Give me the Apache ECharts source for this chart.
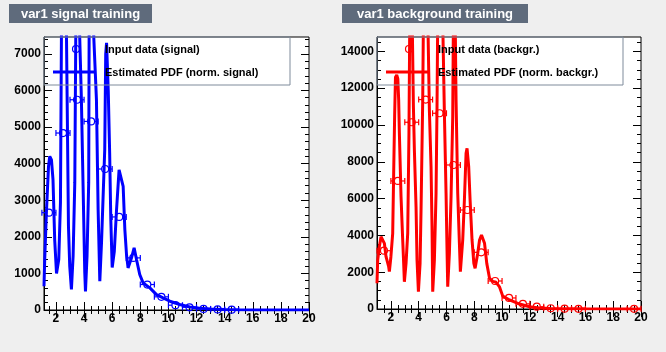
<!DOCTYPE html>
<html>
<head>
<meta charset="utf-8">
<script src="https://cdn.jsdelivr.net/npm/echarts@6.0.0/dist/echarts.min.js"></script>
<style>
html, body { margin: 0; padding: 0; background: #efefef; }
#chart { width: 666px; height: 352px; }
</style>
</head>
<body>
<div id="chart"></div>
<script>
// 输入数据直方图 (bin centres / contents)
var sigBinX = [1.5, 2.5, 3.5, 4.5, 5.5, 6.5, 7.5, 8.5, 9.5, 10.5, 11.5, 12.5, 13.5, 14.5];
var sigCounts = [2660, 4836, 5745, 5153, 3853, 2543, 1424, 696, 360, 131, 74, 30, 15, 10];

var bkgBinX = [1.5, 2.5, 3.5, 4.5, 5.5, 6.5, 7.5, 8.5, 9.5, 10.5, 11.5, 12.5, 13.5, 14.5, 15.5, 19.5];
var bkgCounts = [3168, 6957, 10147, 11380, 10636, 7826, 5380, 3080, 1522, 600, 280, 125, 40, 20, 10, 10];

// 估计的 PDF 曲线
var sigPdfX = [1.15, 1.20, 1.32, 1.47, 1.56, 1.68, 1.79, 1.91, 2.04, 2.20, 2.32, 2.39, 2.57, 2.75, 2.89, 2.98,
  3.10, 3.22, 3.34, 3.41, 3.55, 3.69, 3.81, 3.93, 4.05, 4.10, 4.21, 4.33, 4.36, 4.52, 4.69, 4.88, 5.00, 5.12,
  5.24, 5.47, 5.54, 5.60, 5.66, 5.72, 5.82, 5.90, 6.00, 6.15, 6.31, 6.49, 6.59, 6.78, 6.90, 7.02, 7.13, 7.37,
  7.56, 7.73, 7.96, 8.20, 8.68, 9.15, 9.62, 10.10, 10.81, 11.52, 12.22, 13.0, 14.0, 15.0, 16.0, 17.5, 20.0];
var sigPdfY = [650, 1380, 2660, 3925, 4200, 4100, 3560, 1925, 1000, 1380, 2930, 7500, 10500, 7460, 2290, 1200,
  560, 1470, 3480, 7500, 11500, 7460, 5750, 3380, 1020, 510, 1470, 3480, 7500, 10500, 7460, 5750, 2740, 790,
  1830, 4380, 7000, 7300, 7250, 6000, 4300, 2500, 1160, 1600, 2740, 3830, 3880, 3380, 2200, 1510, 1150, 1420,
  1700, 1380, 970, 740, 605, 420, 330, 240, 150, 80, 50, 25, 12, 6, 3, 0, 0];

var bkgPdfX = [1.0, 1.05, 1.17, 1.29, 1.43, 1.53, 1.65, 1.84, 1.89, 2.0, 2.13, 2.20, 2.27, 2.33, 2.42, 2.50,
  2.56, 2.61, 2.73, 2.85, 2.92, 2.97, 3.09, 3.21, 3.30, 3.35, 3.45, 3.55, 3.62, 3.69, 3.81, 3.88, 3.98, 4.10,
  4.17, 4.29, 4.33, 4.50, 4.68, 4.77, 4.89, 4.96, 5.01, 5.13, 5.25, 5.32, 5.36, 5.55, 5.75, 5.85, 5.97, 6.04,
  6.09, 6.21, 6.33, 6.45, 6.49, 6.57, 6.64, 6.69, 6.81, 6.93, 7.00, 7.17, 7.29, 7.41, 7.48, 7.60, 7.70, 7.84,
  7.97, 8.06, 8.25, 8.38, 8.52, 8.74, 8.90, 9.10, 9.33, 9.57, 9.82, 10.05, 10.54, 11.26, 11.98, 12.7, 13.5,
  14.5, 16.0, 18.0, 20.0];
var bkgPdfY = [1400, 2660, 3390, 3930, 4020, 3570, 2840, 2300, 2030, 2840, 4110, 7370, 10500, 12600, 12720, 12500,
  11360, 9560, 6100, 3750, 2480, 1480, 2480, 4110, 9550, 14800, 18000, 14800, 11000, 8640, 5560, 2660, 940, 2480,
  5380, 11360, 14800, 19000, 14800, 10800, 7730, 4470, 940, 2660, 6290, 11000, 14800, 18500, 14800, 10640, 6290, 3200,
  1210, 3030, 6100, 10450, 14800, 16000, 14800, 11360, 6290, 3570, 2030, 3750, 5920, 8460, 8730, 7730, 5920, 3750,
  2480, 2210, 3030, 3750, 4020, 3570, 2480, 1670, 1500, 1450, 1200, 700, 490, 270, 125, 60, 30,
  15, 8, 4, 2];

// 刻度
var xMajorTicks = [2, 4, 6, 8, 10, 12, 14, 16, 18, 20];
var sigYTicks = [0, 1000, 2000, 3000, 4000, 5000, 6000, 7000];
var bkgYTicks = [0, 2000, 4000, 6000, 8000, 10000, 12000, 14000];

var xMinorTicks = [];
for (var t = 1.5; t < 20; t += 0.5) xMinorTicks.push(t);
var sigYMinor = [];
for (var s = 200; s < 7460; s += 200) sigYMinor.push(s);
var bkgYMinor = [];
for (var b = 500; b < 14780; b += 500) bkgYMinor.push(b);

var FONT = '"Liberation Sans", Arial, Helvetica, sans-serif';

function zip(xs, ys) {
    var out = [];
    for (var i = 0; i < xs.length; i++) {
        if (ys[i] != null) out.push([xs[i], ys[i]]);
    }
    return out;
}

// 一个坐标轴: 主刻度 / 次刻度, 底/顶 (左/右)
function makeAxis(grid, pos, min, max, ticks, len, labels) {
    var ax = {
        type: 'value',
        gridIndex: grid,
        position: pos,
        min: min,
        max: max,
        axisLine: { show: labels, lineStyle: { color: '#000', width: 1 } },
        axisTick: { show: true, inside: true, length: len, customValues: ticks, lineStyle: { color: '#000', width: 1 } },
        axisLabel: { show: false },
        splitLine: { show: false }
    };
    if (labels) {
        ax.axisLabel = {
            show: true,
            customValues: ticks,
            formatter: function (v) { return String(v); },
            color: '#000',
            fontWeight: 'bold',
            fontSize: 12,
            fontFamily: FONT,
            margin: 3
        };
    }
    return ax;
}

function markerRender(params, api) {
    var c = api.coord([api.value(0), api.value(1)]);
    var halfW = api.size([0.5, 0])[0];
    var r = 3.5;
    var color = api.visual('color');
    var st = { stroke: color, lineWidth: 1.2, fill: null };
    return {
        type: 'group',
        children: [
            { type: 'line', shape: { x1: c[0] - halfW, y1: c[1], x2: c[0] - r, y2: c[1] }, style: st },
            { type: 'line', shape: { x1: c[0] + r, y1: c[1], x2: c[0] + halfW, y2: c[1] }, style: st },
            { type: 'line', shape: { x1: c[0] - halfW, y1: c[1] - 3, x2: c[0] - halfW, y2: c[1] + 3 }, style: st },
            { type: 'line', shape: { x1: c[0] + halfW, y1: c[1] - 3, x2: c[0] + halfW, y2: c[1] + 3 }, style: st },
            { type: 'circle', shape: { cx: c[0], cy: c[1], r: r }, style: { stroke: color, lineWidth: 1.2, fill: 'rgba(0,0,0,0)' } }
        ]
    };
}

var myChart = echarts.init(document.getElementById('chart'), null, { renderer: 'canvas' });

var xAxes = [
    // 左图 (signal) 0..3
    makeAxis(0, 'bottom', 1.15, 20, xMajorTicks, 8, true),
    makeAxis(0, 'bottom', 1.15, 20, xMinorTicks, 4, false),
    makeAxis(0, 'top', 1.15, 20, xMajorTicks, 8, false),
    makeAxis(0, 'top', 1.15, 20, xMinorTicks, 4, false),
    // 右图 (background) 4..7
    makeAxis(1, 'bottom', 1.0, 20, xMajorTicks, 8, true),
    makeAxis(1, 'bottom', 1.0, 20, xMinorTicks, 4, false),
    makeAxis(1, 'top', 1.0, 20, xMajorTicks, 8, false),
    makeAxis(1, 'top', 1.0, 20, xMinorTicks, 4, false)
];
var yAxes = [
    makeAxis(0, 'left', 0, 7460, sigYTicks, 8, true),
    makeAxis(0, 'left', 0, 7460, sigYMinor, 4, false),
    makeAxis(0, 'right', 0, 7460, sigYTicks, 8, false),
    makeAxis(0, 'right', 0, 7460, sigYMinor, 4, false),
    makeAxis(1, 'left', 0, 14780, bkgYTicks, 8, true),
    makeAxis(1, 'left', 0, 14780, bkgYMinor, 4, false),
    makeAxis(1, 'right', 0, 14780, bkgYTicks, 8, false),
    makeAxis(1, 'right', 0, 14780, bkgYMinor, 4, false)
];

function legendGraphics(x0, x1, circleX, lineX1, lineX2, textX, color, label1, label2) {
    return [
        { type: 'rect', shape: { x: x0, y: 37, width: x1 - x0, height: 48 },
          style: { fill: null, stroke: '#7f8b9b', lineWidth: 1 }, z: 10 },
        { type: 'circle', shape: { cx: circleX, cy: 49, r: 3.5 },
          style: { fill: null, stroke: color, lineWidth: 1.2 }, z: 10 },
        { type: 'text', style: { text: label1, x: textX, y: 50, font: 'bold 11px ' + FONT, fill: '#000', verticalAlign: 'middle' }, z: 10 },
        { type: 'line', shape: { x1: lineX1, y1: 72, x2: lineX2, y2: 72 },
          style: { stroke: color, lineWidth: 3 }, z: 10 },
        { type: 'text', style: { text: label2, x: textX, y: 73, font: 'bold 11px ' + FONT, fill: '#000', verticalAlign: 'middle' }, z: 10 }
    ];
}

function titleGraphics(x, w, text) {
    return [
        { type: 'rect', shape: { x: x, y: 4, width: w, height: 19 }, style: { fill: '#5f6b7c' }, z: 10 },
        { type: 'text', style: { text: text, x: x + w / 2, y: 14, font: 'bold 13px ' + FONT, fill: '#fff', align: 'center', verticalAlign: 'middle' }, z: 11 }
    ];
}

var graphics = []
    .concat(titleGraphics(9, 143, 'var1 signal training'))
    .concat(titleGraphics(342, 186, 'var1 background training'))
    .concat(legendGraphics(44, 290, 76, 53, 96, 105, '#0000ff', 'Input data (signal)', 'Estimated PDF (norm. signal)'))
    .concat(legendGraphics(377, 623, 409, 386, 430, 438, '#ff0000', 'Input data (backgr.)', 'Estimated PDF (norm. backgr.)'));

myChart.setOption({
    animation: false,
    backgroundColor: '#efefef',
    grid: [
        { left: 44, top: 37, width: 265, height: 273, show: true, backgroundColor: '#fff', borderColor: '#000', borderWidth: 1 },
        { left: 377, top: 37, width: 264, height: 272, show: true, backgroundColor: '#fff', borderColor: '#000', borderWidth: 1 }
    ],
    xAxis: xAxes,
    yAxis: yAxes,
    graphic: graphics,
    series: [
        {
            name: 'Estimated PDF (norm. signal)',
            type: 'line',
            xAxisIndex: 0, yAxisIndex: 0,
            data: zip(sigPdfX, sigPdfY),
            symbol: 'none',
            clip: true,
            lineStyle: { color: '#0000ff', width: 3 },
            z: 2
        },
        {
            name: 'Input data (signal)',
            type: 'custom',
            xAxisIndex: 0, yAxisIndex: 0,
            data: zip(sigBinX, sigCounts),
            itemStyle: { color: '#0000ff' },
            renderItem: markerRender,
            z: 3
        },
        {
            name: 'Estimated PDF (norm. backgr.)',
            type: 'line',
            xAxisIndex: 4, yAxisIndex: 4,
            data: zip(bkgPdfX, bkgPdfY),
            symbol: 'none',
            clip: true,
            lineStyle: { color: '#ff0000', width: 3 },
            z: 2
        },
        {
            name: 'Input data (backgr.)',
            type: 'custom',
            xAxisIndex: 4, yAxisIndex: 4,
            data: zip(bkgBinX, bkgCounts),
            itemStyle: { color: '#ff0000' },
            renderItem: markerRender,
            z: 3
        }
    ]
});
</script>
</body>
</html>
